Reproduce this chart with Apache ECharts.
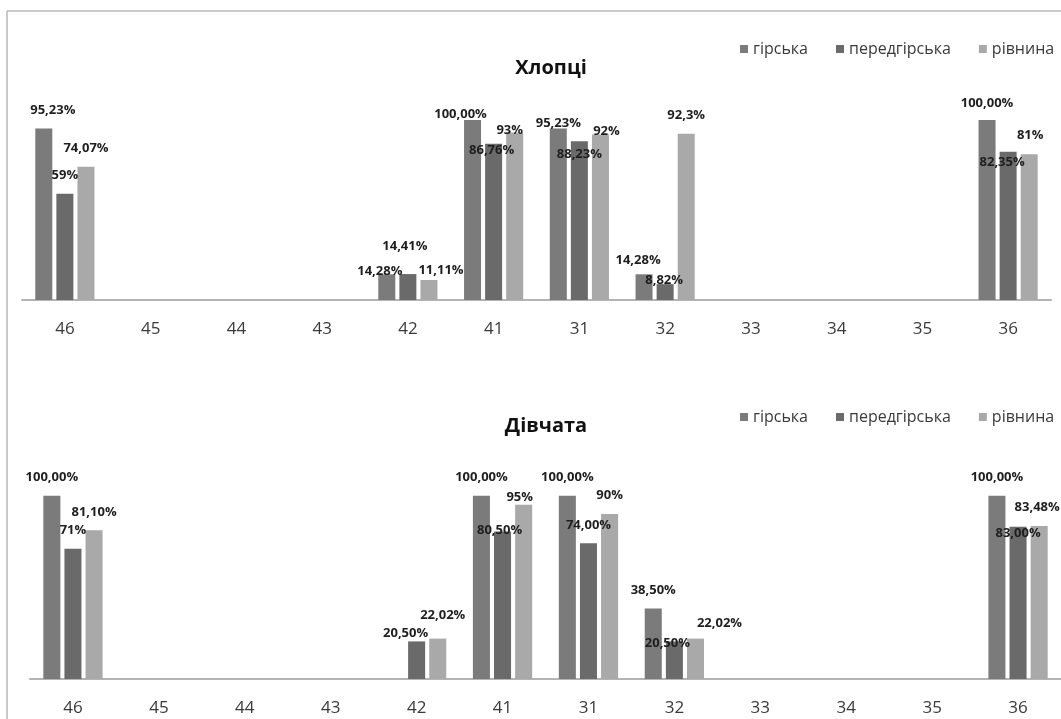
<!DOCTYPE html>
<html>
<head>
<meta charset="utf-8">
<script src="https://cdn.jsdelivr.net/npm/echarts@6/dist/echarts.min.js"></script>
<style>
  html, body { margin: 0; padding: 0; background: #ffffff; }
  #chart { width: 1061px; height: 719px; }
</style>
</head>
<body>
<div id="chart"></div>
<script>
// Categories (school codes) along the x axis
const categories = ['46', '45', '44', '43', '42', '41', '31', '32', '33', '34', '35', '36'];
const seriesNames = ['гірська', 'передгірська', 'рівнина'];

// Хлопці — percentages as printed (comma decimals), null = no bar
const boysMountain  = ['95,23', null, null, null, '14,28', '100,00', '95,23', '14,28', null, null, null, '100,00'];
const boysFoothill  = ['59',    null, null, null, '14,41', '86,76',  '88,23', '8,82',  null, null, null, '82,35'];
const boysPlain     = ['74,07', null, null, null, '11,11', '93',     '92',    '92,3',  null, null, null, '81'];

// Дівчата
const girlsMountain = ['100,00', null, null, null, null,    '100,00', '100,00', '38,50', null, null, null, '100,00'];
const girlsFoothill = ['71',     null, null, null, '20,50', '80,50',  '74,00',  '20,50', null, null, null, '83,00'];
const girlsPlain    = ['81,10',  null, null, null, '22,02', '95',     '90',     '22,02', null, null, null, '83,48'];

// Hand-placed label shifts [dx, dy] so crowded labels do not sit on each other.
// Key: panel/series/category.
const labelNudge = {
  'b0-46': [9, 0],
  'b0-42': [-7, 16], 'b1-42': [-3, -9], 'b2-42': [12, 9],
  'b0-41': [-12, 13], 'b1-41': [-2, 25], 'b2-41': [-5, 16],
  'b0-31': [0, 13], 'b1-31': [0, 32], 'b2-31': [6, 15],
  'b0-32': [-6, 5], 'b1-32': [-1, 15],
  'b0-36': [0, 2], 'b1-36': [-6, 29], 'b2-36': [1, 0],
  'g1-42': [-11, 10], 'g2-42': [5, -5],
  'g1-41': [-3, 17], 'g2-41': [-4, 11],
  'g1-32': [-7, 20], 'g2-32': [24, 3],
  'g1-36': [0, 25], 'g2-36': [-2, 0]
};

const colors = ['#7b7b7b', '#6a6a6a', '#a9a9a9'];
const font = '"Open Sans", "Noto Sans", sans-serif';

function toNum(s) { return s === null ? null : parseFloat(s.replace(',', '.')); }

function makeSeries(name, strs, idx, axisIdx, panel) {
  return {
    name: name,
    type: 'bar',
    xAxisIndex: axisIdx,
    yAxisIndex: axisIdx,
    data: strs.map((s, i) => {
      const item = { value: toNum(s) };
      const n = labelNudge[panel + idx + '-' + categories[i]];
      if (n) item.label = { offset: n };
      return item;
    }),
    barGap: '24%',
    barCategoryGap: '31%',
    itemStyle: { color: colors[idx] },
    label: {
      show: true,
      position: 'top',
      distance: 12,
      fontFamily: font,
      fontWeight: 'bold',
      fontSize: 13,
      color: '#1e1e1e',
      formatter: p => strs[p.dataIndex] + '%'
    },
    emphasis: { disabled: true }
  };
}

function xAxisFor(gridIndex) {
  return {
    type: 'category',
    gridIndex: gridIndex,
    data: categories,
    axisLine: { lineStyle: { color: '#b4b4b4', width: 2 } },
    axisTick: { show: false },
    axisLabel: { color: '#3a3a3a', fontSize: 17, fontFamily: font, margin: 21 }
  };
}
function yAxisFor(gridIndex) {
  return {
    type: 'value',
    gridIndex: gridIndex,
    min: 0, max: 120,
    show: false,
    splitLine: { show: false }
  };
}

function legendAt(top) {
  return {
    data: seriesNames,
    left: 740, top: top,
    width: 400,
    padding: 0,
    itemWidth: 8, itemHeight: 8, itemGap: 28,
    icon: 'rect',
    selectedMode: false,
    textStyle: { fontFamily: font, fontSize: 16, color: '#3a3a3a' }
  };
}

const chart = echarts.init(document.getElementById('chart'), null, { renderer: 'canvas' });
chart.setOption({
  animation: false,
  color: colors,
  title: [
    { text: 'Хлопці', left: 546, top: 53, textAlign: 'center',
      textStyle: { fontFamily: font, fontSize: 20, fontWeight: 'bold', color: '#111' } },
    { text: 'Дівчата', left: 541, top: 411, textAlign: 'center',
      textStyle: { fontFamily: font, fontSize: 20, fontWeight: 'bold', color: '#111' } }
  ],
  legend: [legendAt(41), legendAt(409)],
  grid: [
    { left: 22, right: 10, top: 84, height: 216 },
    { left: 30, right: -1, top: 459, height: 220 }
  ],
  xAxis: [xAxisFor(0), xAxisFor(1)],
  yAxis: [yAxisFor(0), yAxisFor(1)],
  series: [
    makeSeries(seriesNames[0], boysMountain, 0, 0, 'b'),
    makeSeries(seriesNames[1], boysFoothill, 1, 0, 'b'),
    makeSeries(seriesNames[2], boysPlain, 2, 0, 'b'),
    makeSeries(seriesNames[0], girlsMountain, 0, 1, 'g'),
    makeSeries(seriesNames[1], girlsFoothill, 1, 1, 'g'),
    makeSeries(seriesNames[2], girlsPlain, 2, 1, 'g')
  ],
  graphic: [
    // thin frame on the top and left edges
    { type: 'line', shape: { x1: 7, y1: 11, x2: 1061, y2: 11 }, style: { stroke: '#b8b8b8', lineWidth: 1.5 } },
    { type: 'line', shape: { x1: 7, y1: 11, x2: 7, y2: 719 }, style: { stroke: '#b8b8b8', lineWidth: 1.5 } }
  ]
});
</script>
</body>
</html>
